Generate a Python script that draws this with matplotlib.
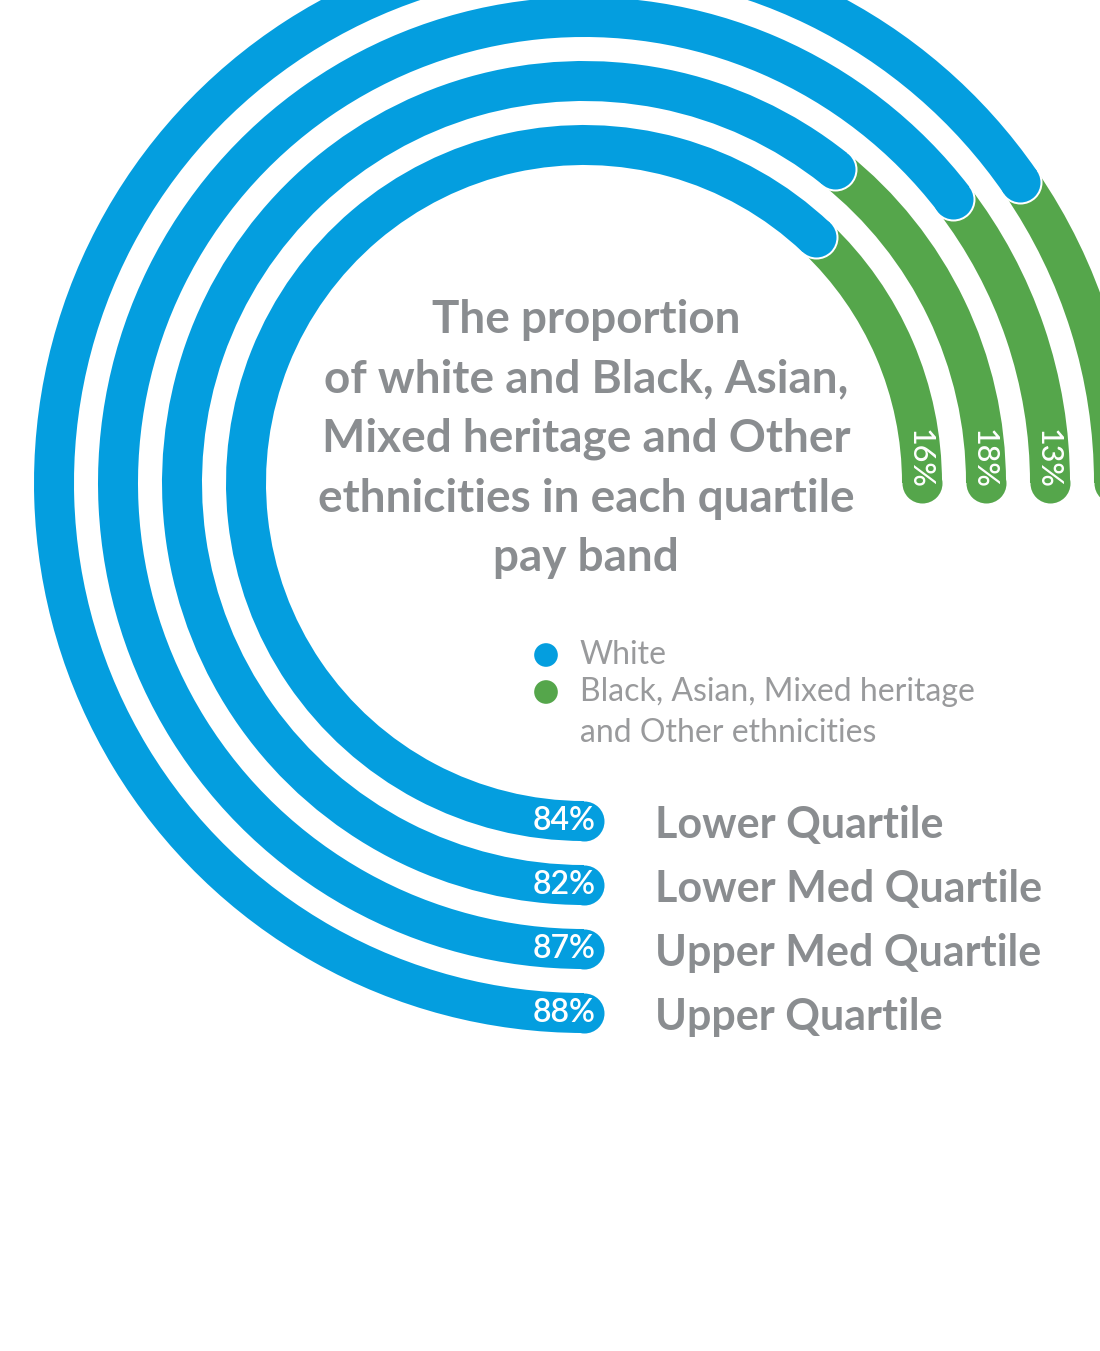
import numpy as np
import matplotlib
matplotlib.use("Agg")
import matplotlib.pyplot as plt

# -- Data --------------------------------------------------------------------
quartiles = ["Lower Quartile", "Lower Med Quartile", "Upper Med Quartile", "Upper Quartile"]
white_pct = [84, 82, 87, 88]
other_pct = [16, 18, 13, 12]

series_names = ["White", "Black, Asian, Mixed heritage\nand Other ethnicities"]
title_lines = ["The proportion",
               "of white and Black, Asian,",
               "Mixed heritage and Other",
               "ethnicities in each quartile",
               "pay band"]

# -- Style -------------------------------------------------------------------
BLUE = "#049edf"
GREEN = "#55a64b"
GREY = "#8a8d90"
LIGHT_GREY = "#999a9c"
FONT = ["Lato", "DejaVu Sans"]

W, H, DPI = 1100, 1351, 100
CX, CY = 584, 483          # ring centre in pixels (from top-left)
R_AX = 600                 # polar axes radius in pixels (= r units)
R0, STEP = 338, 64         # innermost ring radius and ring spacing
BAND = 40                  # band thickness in pixels
SWEEP = 270                # degrees for 100%

px2pt = 72 / DPI
cap_s = (BAND * px2pt) ** 2             # scatter size of a round cap
edge_s = ((BAND + 2) * px2pt) ** 2      # blue cap with thin white rim

fig = plt.figure(figsize=(W / DPI, H / DPI), dpi=DPI)
fig.patch.set_facecolor("white")

ax = fig.add_axes([(CX - R_AX) / W, (H - CY - R_AX) / H, 2 * R_AX / W, 2 * R_AX / H],
                  projection="polar")
ax.set_theta_zero_location("S")
ax.set_theta_direction(-1)
ax.set_ylim(0, R_AX)
ax.set_axis_off()

for i, (q, w, o) in enumerate(zip(quartiles, white_pct, other_pct)):
    r = R0 + i * STEP
    t_w = SWEEP * w / 100
    t_o = SWEEP * (w + o) / 100
    # the round cap of the blue bar ends exactly on the split
    cap = np.rad2deg(BAND / 2 / r)
    t_b = t_w - cap

    # green segment (filled sector + round end)
    ax.bar(np.deg2rad(t_b), BAND, width=np.deg2rad(t_o - t_b), bottom=r - BAND / 2,
           align="edge", color=GREEN, linewidth=0, clip_on=False, zorder=2)
    ax.scatter([np.deg2rad(t_o)], [r], s=cap_s, color=GREEN, linewidths=0,
               clip_on=False, zorder=2)

    # blue segment
    ax.scatter([np.deg2rad(t_b)], [r], s=edge_s, color=BLUE, edgecolors="white",
               linewidths=2 * px2pt, clip_on=False, zorder=3)
    ax.bar(0, BAND, width=np.deg2rad(t_b), bottom=r - BAND / 2,
           align="edge", color=BLUE, linewidth=0, clip_on=False, zorder=4)
    ax.scatter([0], [r], s=cap_s, color=BLUE, linewidths=0, clip_on=False, zorder=4)

    # value labels at bar ends
    ax.annotate(f"{w}%", xy=(0, r), xytext=(12 * px2pt, 0),
                textcoords="offset points",
                ha="right", va="center", color="white", fontsize=23,
                fontweight="semibold", family=FONT, zorder=6, annotation_clip=False)
    if CX + r + BAND / 2 <= W:
        ax.annotate(f"{o}%", xy=(np.deg2rad(t_o), r), xytext=(-2 * px2pt, 24 * px2pt),
                    textcoords="offset points", rotation=270,
                    ha="center", va="center", color="white", fontsize=22,
                    fontweight="medium", family=FONT, zorder=6, annotation_clip=False)

    # quartile name
    ax.annotate(q, xy=(0, r), xytext=(71 * px2pt, -4 * px2pt), textcoords="offset points",
                ha="left", va="center", color=GREY, fontsize=31,
                fontweight="bold", family=FONT, annotation_clip=False)

# -- Title & legend in pixel space ----------------------------------------------
ov = fig.add_axes([0, 0, 1, 1])
ov.set_xlim(0, W)
ov.set_ylim(H, 0)
ov.set_axis_off()

for k, line in enumerate(title_lines):
    ov.text(586, 320 + k * 59.5, line, ha="center", va="center", color=GREY,
            fontsize=33, fontweight="bold", family=FONT)

for k, (name, col) in enumerate(zip(series_names, [BLUE, GREEN])):
    y0 = 655 + k * 37
    ov.scatter([546], [y0], s=290, color=col, edgecolors="none")
    for j, part in enumerate(name.split("\n")):
        ov.text(580, y0 + j * 41, part, ha="left", va="center", color=LIGHT_GREY,
                fontsize=23, fontweight="normal", family=FONT)

fig.savefig("out.png", dpi=DPI, facecolor="white")
